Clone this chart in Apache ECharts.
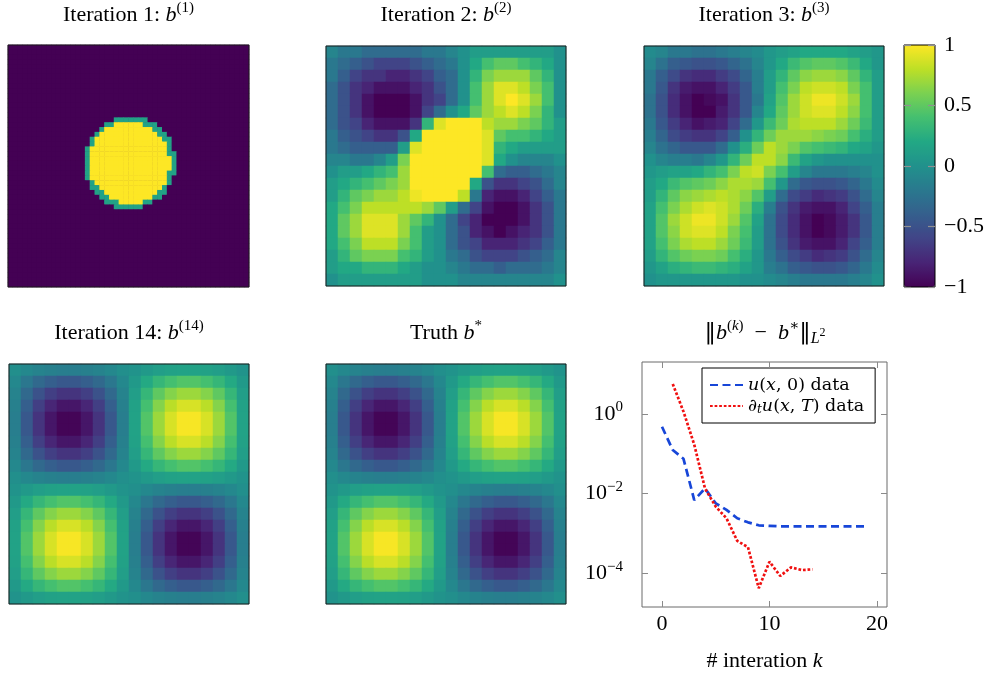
<!DOCTYPE html>
<html><head><meta charset="utf-8">
<script src="https://cdn.jsdelivr.net/npm/echarts@6/dist/echarts.min.js"></script>
<style>html,body{margin:0;padding:0;background:#fff}#c{width:997px;height:674px}</style>
</head><body><div id="c"></div>
<script>
// ---------- DATA ----------
// Iteration 1: 50x50 field, -1 outside a disc, +1 inside, thin transition edge.
const iter1Size = 50;
const iter1Outside = -1;
const iter1Inside = 1;
const iter1Edge = 0.15;
// [row, edgeStartCol, insideStartCol, insideEndCol, edgeEndCol]  (insideStart -1 = edge only)
const iter1Rows = [
  [15,22,-1,-1,28],[16,20,22,27,30],[17,19,20,29,31],[18,18,19,30,32],[19,17,18,31,33],
  [20,17,18,32,33],[21,16,17,32,33],[22,16,17,32,34],[23,16,17,33,34],[24,16,17,33,34],
  [25,16,17,33,34],[26,16,17,32,34],[27,16,17,32,33],[28,17,18,32,33],[29,17,19,31,32],
  [30,18,20,30,32],[31,19,21,29,31],[32,20,23,27,29],[33,22,-1,-1,27]
];

// Iteration 2: 20x20 field, rows top -> bottom
const iter2Grid = [
  [-0.1,-0.2,-0.2,-0.3,-0.3,-0.3,-0.3,-0.3,-0.2,-0.2,-0.1,0,0.1,0.1,0.1,0.1,0.1,0.1,0.1,0],
  [-0.2,-0.3,-0.4,-0.5,-0.6,-0.6,-0.6,-0.5,-0.4,-0.3,-0.2,0,0.2,0.4,0.5,0.5,0.4,0.3,0.2,0],
  [-0.2,-0.4,-0.6,-0.7,-0.7,-0.8,-0.8,-0.7,-0.6,-0.4,-0.3,0,0.3,0.6,0.7,0.7,0.7,0.5,0.3,0],
  [-0.3,-0.5,-0.7,-0.8,-0.9,-0.9,-0.9,-0.8,-0.7,-0.5,-0.3,0,0.4,0.7,0.9,0.9,0.8,0.6,0.4,0],
  [-0.3,-0.5,-0.7,-0.9,-1,-1,-1,-0.9,-0.7,-0.6,-0.3,0,0.4,0.7,0.9,1,0.9,0.7,0.4,0],
  [-0.3,-0.5,-0.7,-0.9,-1,-1,-1,-0.9,-0.6,-0.3,0,0.2,0.5,0.7,0.8,0.9,0.8,0.6,0.3,0],
  [-0.3,-0.5,-0.6,-0.8,-0.9,-0.9,-0.9,-0.7,0.3,0.9,1,1,1,0.8,0.7,0.7,0.6,0.5,0.3,0.1],
  [-0.2,-0.4,-0.5,-0.6,-0.7,-0.7,-0.5,0.2,1,1,1,1,1,0.9,0.5,0.4,0.4,0.3,0.2,0.1],
  [-0.2,-0.3,-0.4,-0.4,-0.4,-0.4,0.1,0.9,1,1,1,1,1,0.9,0.3,0.2,0.1,0.1,0.1,0.1],
  [-0.1,-0.1,-0.2,-0.2,-0.1,0.1,0.6,1,1,1,1,1,1,0.9,0.2,0,-0.1,-0.1,-0.1,0],
  [0,0.1,0.1,0.2,0.3,0.4,0.7,1,1,1,1,1,1,0.4,-0.3,-0.4,-0.4,-0.3,-0.2,-0.1],
  [0.1,0.2,0.3,0.4,0.5,0.6,0.7,1,1,1,1,1,0.2,-0.5,-0.7,-0.7,-0.6,-0.5,-0.3,-0.1],
  [0.1,0.3,0.5,0.6,0.7,0.7,0.8,0.95,1,1,1,0.8,-0.2,-0.8,-0.9,-0.9,-0.8,-0.6,-0.4,-0.2],
  [0.2,0.4,0.6,0.8,0.8,0.8,0.8,0.8,0.7,0.5,0.1,-0.3,-0.6,-0.9,-1,-1,-0.9,-0.7,-0.5,-0.2],
  [0.2,0.5,0.7,0.9,0.9,0.9,0.7,0.5,0.3,0,-0.3,-0.6,-0.8,-1,-1,-1,-0.9,-0.7,-0.5,-0.2],
  [0.2,0.5,0.7,0.9,0.9,0.9,0.7,0.4,0.1,0,-0.3,-0.5,-0.8,-0.9,-1,-0.9,-0.8,-0.7,-0.5,-0.2],
  [0.2,0.4,0.6,0.8,0.8,0.8,0.6,0.4,0.1,0,-0.3,-0.5,-0.6,-0.8,-0.8,-0.8,-0.7,-0.6,-0.4,-0.2],
  [0.1,0.3,0.5,0.6,0.6,0.6,0.4,0.3,0.1,0,-0.2,-0.3,-0.5,-0.6,-0.6,-0.6,-0.5,-0.4,-0.3,-0.1],
  [0.1,0.2,0.2,0.3,0.3,0.3,0.2,0.1,0,0,-0.1,-0.2,-0.3,-0.3,-0.4,-0.3,-0.3,-0.3,-0.2,-0.1],
  [0,0.1,0.1,0.1,0.1,0.1,0.1,0.1,0,0,0,-0.1,-0.1,-0.1,-0.1,-0.1,-0.1,-0.1,-0.1,0]
];

// Iteration 3: 20x20 field, rows top -> bottom
const iter3Grid = [
  [-0.05,-0.1,-0.2,-0.2,-0.25,-0.25,-0.2,-0.15,-0.1,-0.05,0.05,0.1,0.15,0.2,0.2,0.2,0.2,0.15,0.1,0.05],
  [-0.1,-0.25,-0.4,-0.45,-0.5,-0.5,-0.45,-0.35,-0.25,-0.1,0.05,0.2,0.35,0.45,0.5,0.5,0.45,0.35,0.2,0.05],
  [-0.2,-0.4,-0.55,-0.7,-0.75,-0.75,-0.65,-0.55,-0.35,-0.15,0.1,0.3,0.5,0.65,0.7,0.7,0.65,0.5,0.3,0.1],
  [-0.2,-0.45,-0.7,-0.85,-0.9,-0.9,-0.8,-0.65,-0.45,-0.15,0.1,0.4,0.6,0.8,0.85,0.85,0.8,0.6,0.4,0.1],
  [-0.25,-0.5,-0.75,-0.9,-1,-0.95,-0.9,-0.7,-0.45,-0.2,0.15,0.45,0.7,0.85,0.95,0.95,0.85,0.7,0.4,0.1],
  [-0.25,-0.5,-0.75,-0.9,-1,-1,-0.85,-0.7,-0.45,-0.1,0.2,0.5,0.7,0.85,0.9,0.9,0.8,0.65,0.4,0.1],
  [-0.2,-0.45,-0.65,-0.8,-0.9,-0.85,-0.8,-0.6,-0.3,0.05,0.35,0.55,0.75,0.8,0.8,0.8,0.7,0.55,0.35,0.1],
  [-0.15,-0.35,-0.55,-0.65,-0.7,-0.7,-0.6,-0.4,0,0.3,0.55,0.7,0.7,0.7,0.65,0.6,0.55,0.4,0.25,0.1],
  [-0.1,-0.25,-0.35,-0.45,-0.45,-0.45,-0.3,0,0.25,0.55,0.8,0.7,0.6,0.45,0.4,0.35,0.3,0.2,0.15,0.05],
  [0,-0.1,-0.15,-0.15,-0.2,-0.1,0.05,0.3,0.55,0.8,0.8,0.65,0.35,0.15,0.05,0,0,0,0,0],
  [0.05,0.1,0.15,0.15,0.2,0.3,0.4,0.6,0.8,0.85,0.6,0.4,0.1,-0.1,-0.2,-0.2,-0.2,-0.15,-0.1,0],
  [0.1,0.2,0.35,0.45,0.5,0.55,0.65,0.75,0.75,0.7,0.4,0.05,-0.3,-0.45,-0.5,-0.5,-0.45,-0.35,-0.2,-0.05],
  [0.1,0.3,0.5,0.65,0.7,0.75,0.8,0.75,0.65,0.45,0.1,-0.3,-0.55,-0.65,-0.75,-0.7,-0.65,-0.5,-0.3,-0.1],
  [0.15,0.4,0.6,0.75,0.85,0.9,0.85,0.75,0.55,0.25,-0.15,-0.5,-0.7,-0.85,-0.9,-0.9,-0.8,-0.6,-0.4,-0.15],
  [0.15,0.45,0.7,0.85,0.95,0.95,0.85,0.7,0.45,0.15,-0.25,-0.55,-0.75,-0.9,-1,-0.95,-0.85,-0.7,-0.45,-0.15],
  [0.15,0.45,0.65,0.85,0.9,0.9,0.8,0.6,0.4,0.1,-0.25,-0.55,-0.75,-0.9,-1,-0.95,-0.85,-0.7,-0.45,-0.15],
  [0.15,0.4,0.6,0.75,0.8,0.8,0.7,0.55,0.35,0.1,-0.25,-0.5,-0.7,-0.85,-0.9,-0.9,-0.8,-0.6,-0.4,-0.15],
  [0.1,0.3,0.45,0.55,0.6,0.6,0.55,0.4,0.25,0.05,-0.2,-0.4,-0.55,-0.65,-0.75,-0.7,-0.65,-0.5,-0.3,-0.1],
  [0.05,0.15,0.25,0.3,0.35,0.35,0.3,0.25,0.15,0.05,-0.15,-0.25,-0.4,-0.45,-0.5,-0.5,-0.45,-0.35,-0.2,-0.05],
  [0,0.05,0.05,0.05,0.05,0.05,0.05,0.05,0,0,-0.05,-0.1,-0.15,-0.2,-0.2,-0.2,-0.2,-0.15,-0.1,0]
];

// Truth b*: 20x20 field, rows top -> bottom
const truthGrid = [
  [-0.02,-0.07,-0.11,-0.14,-0.15,-0.15,-0.14,-0.11,-0.07,-0.02,0.02,0.07,0.11,0.14,0.15,0.15,0.14,0.11,0.07,0.02],
  [-0.07,-0.21,-0.32,-0.4,-0.45,-0.45,-0.4,-0.32,-0.21,-0.07,0.07,0.21,0.32,0.4,0.45,0.45,0.4,0.32,0.21,0.07],
  [-0.11,-0.32,-0.5,-0.63,-0.7,-0.7,-0.63,-0.5,-0.32,-0.11,0.11,0.32,0.5,0.63,0.7,0.7,0.63,0.5,0.32,0.11],
  [-0.14,-0.4,-0.63,-0.79,-0.88,-0.88,-0.79,-0.63,-0.4,-0.14,0.14,0.4,0.63,0.79,0.88,0.88,0.79,0.63,0.4,0.14],
  [-0.15,-0.45,-0.7,-0.88,-0.98,-0.98,-0.88,-0.7,-0.45,-0.15,0.15,0.45,0.7,0.88,0.98,0.98,0.88,0.7,0.45,0.15],
  [-0.15,-0.45,-0.7,-0.88,-0.98,-0.98,-0.88,-0.7,-0.45,-0.15,0.15,0.45,0.7,0.88,0.98,0.98,0.88,0.7,0.45,0.15],
  [-0.14,-0.4,-0.63,-0.79,-0.88,-0.88,-0.79,-0.63,-0.4,-0.14,0.14,0.4,0.63,0.79,0.88,0.88,0.79,0.63,0.4,0.14],
  [-0.11,-0.32,-0.5,-0.63,-0.7,-0.7,-0.63,-0.5,-0.32,-0.11,0.11,0.32,0.5,0.63,0.7,0.7,0.63,0.5,0.32,0.11],
  [-0.07,-0.21,-0.32,-0.4,-0.45,-0.45,-0.4,-0.32,-0.21,-0.07,0.07,0.21,0.32,0.4,0.45,0.45,0.4,0.32,0.21,0.07],
  [-0.02,-0.07,-0.11,-0.14,-0.15,-0.15,-0.14,-0.11,-0.07,-0.02,0.02,0.07,0.11,0.14,0.15,0.15,0.14,0.11,0.07,0.02],
  [0.02,0.07,0.11,0.14,0.15,0.15,0.14,0.11,0.07,0.02,-0.02,-0.07,-0.11,-0.14,-0.15,-0.15,-0.14,-0.11,-0.07,-0.02],
  [0.07,0.21,0.32,0.4,0.45,0.45,0.4,0.32,0.21,0.07,-0.07,-0.21,-0.32,-0.4,-0.45,-0.45,-0.4,-0.32,-0.21,-0.07],
  [0.11,0.32,0.5,0.63,0.7,0.7,0.63,0.5,0.32,0.11,-0.11,-0.32,-0.5,-0.63,-0.7,-0.7,-0.63,-0.5,-0.32,-0.11],
  [0.14,0.4,0.63,0.79,0.88,0.88,0.79,0.63,0.4,0.14,-0.14,-0.4,-0.63,-0.79,-0.88,-0.88,-0.79,-0.63,-0.4,-0.14],
  [0.15,0.45,0.7,0.88,0.98,0.98,0.88,0.7,0.45,0.15,-0.15,-0.45,-0.7,-0.88,-0.98,-0.98,-0.88,-0.7,-0.45,-0.15],
  [0.15,0.45,0.7,0.88,0.98,0.98,0.88,0.7,0.45,0.15,-0.15,-0.45,-0.7,-0.88,-0.98,-0.98,-0.88,-0.7,-0.45,-0.15],
  [0.14,0.4,0.63,0.79,0.88,0.88,0.79,0.63,0.4,0.14,-0.14,-0.4,-0.63,-0.79,-0.88,-0.88,-0.79,-0.63,-0.4,-0.14],
  [0.11,0.32,0.5,0.63,0.7,0.7,0.63,0.5,0.32,0.11,-0.11,-0.32,-0.5,-0.63,-0.7,-0.7,-0.63,-0.5,-0.32,-0.11],
  [0.07,0.21,0.32,0.4,0.45,0.45,0.4,0.32,0.21,0.07,-0.07,-0.21,-0.32,-0.4,-0.45,-0.45,-0.4,-0.32,-0.21,-0.07],
  [0.02,0.07,0.11,0.14,0.15,0.15,0.14,0.11,0.07,0.02,-0.02,-0.07,-0.11,-0.14,-0.15,-0.15,-0.14,-0.11,-0.07,-0.02]
];
// Iteration 14 is visually indistinguishable from the truth
const iter14Grid = truthGrid;

// Error curves ||b(k) - b*||_{L2}
const kBlue = [0,1,2,3,4,5,6,7,8,9,10,11,12,13,14,15,16,17,18,19];
const errBlue = [0.48,0.125,0.075,0.0069,0.0135,0.0057,0.0039,0.0024,0.0019,0.0016,0.00155,0.0015,0.0015,0.0015,0.0015,0.0015,0.0015,0.0015,0.0015,0.0015];
const kRed = [1,2,3,4,5,6,7,8,9,10,11,12,13,14];
const errRed = [5.7,1.15,0.17,0.0135,0.0047,0.0024,0.00065,0.00045,0.000042,0.000195,0.000085,0.00014,0.00012,0.000125];

const xTickValues = [0,10,20];
const yTickValues = [1e-4,1e-2,1];
const colorbarTicks = [-1,-0.5,0,0.5,1];
const seriesNames = ['u(x,0) data','∂tu(x,T) data'];
const viridis = ['#440154','#482475','#414487','#355f8d','#2a788e','#21918c','#22a884','#44bf70','#7ad151','#bddf26','#fde725'];

// ---------- BUILD ----------
function spansToGrid(rows, n){
  const g = [];
  for (let r=0;r<n;r++){ g.push(new Array(n).fill(iter1Outside)); }
  rows.forEach(([r,es,is,ie,ee])=>{
    for (let c=es;c<=ee;c++) g[r][c]=iter1Edge;
    if (is>=0) for (let c=is;c<=ie;c++) g[r][c]=iter1Inside;
  });
  return g;
}
const iter1Grid = spansToGrid(iter1Rows, iter1Size);
function gridToData(grid){
  const out=[]; grid.forEach((row,r)=>row.forEach((v,c)=>out.push([c,r,v]))); return out;
}
function cats(n){ const a=[]; for(let i=0;i<n;i++) a.push(i); return a; }

const SERIF = "'Liberation Serif','DejaVu Serif',serif";
const rich = {
  t:{fontFamily:SERIF,fontSize:22,color:'#000',lineHeight:28},
  n:{fontFamily:"'DejaVu Serif',serif",fontSize:23,color:'#000',lineHeight:28},
  i:{fontFamily:SERIF,fontSize:22,fontStyle:'italic',color:'#000',lineHeight:28},
  s:{fontFamily:SERIF,fontSize:15,color:'#000',verticalAlign:'top',lineHeight:15},
  si:{fontFamily:SERIF,fontSize:15,fontStyle:'italic',color:'#000',verticalAlign:'top',lineHeight:15},
  sub:{fontFamily:SERIF,fontSize:16,fontStyle:'italic',color:'#000',verticalAlign:'bottom',lineHeight:16},
  sub2:{fontFamily:SERIF,fontSize:12,color:'#000',verticalAlign:'middle',lineHeight:12}
};

const panels = [
  {grid:{left:8,top:45,width:241,height:242}, g:iter1Grid, bg:'#440154', title:'{t|Iteration 1: }{i|b}{s|(1)}', ty:15},
  {grid:{left:326,top:46,width:240,height:240}, g:iter2Grid, bg:'#21918c', title:'{t|Iteration 2: }{i|b}{s|(2)}', ty:15},
  {grid:{left:644,top:46,width:240,height:240}, g:iter3Grid, bg:'#21918c', title:'{t|Iteration 3: }{i|b}{s|(3)}', ty:15},
  {grid:{left:9,top:364,width:240,height:240}, g:iter14Grid, bg:'#21918c', title:'{t|Iteration 14: }{i|b}{s|(14)}', ty:333},
  {grid:{left:326,top:364,width:240,height:240}, g:truthGrid, bg:'#21918c', title:'{t|Truth }{i|b}{s|*}', ty:333}
];

const grids=[], xAxes=[], yAxes=[], series=[], graphics=[];
panels.forEach((p,idx)=>{
  const n = p.g.length;
  grids.push(Object.assign({show:true,borderColor:'#1a1a1a',borderWidth:1,backgroundColor:'transparent',z:5}, p.grid));
  xAxes.push({type:'category',gridIndex:idx,data:cats(n),show:false});
  yAxes.push({type:'category',gridIndex:idx,data:cats(n),show:false,inverse:true});
  series.push({type:'heatmap',xAxisIndex:idx,yAxisIndex:idx,data:gridToData(p.g),
    itemStyle:{borderWidth:0},emphasis:{disabled:true},silent:true,progressive:0});
  graphics.push({type:'rect',z:0,silent:true,
    shape:{x:p.grid.left,y:p.grid.top,width:p.grid.width,height:p.grid.height},style:{fill:p.bg}});
  graphics.push({type:'text',x:p.grid.left+p.grid.width/2,y:p.ty,
    style:{text:p.title,rich:rich,align:'center',verticalAlign:'middle'}});
});

// line chart grid (index 5)
const LG = 5;
grids.push({left:642,top:362,width:245,height:245,show:true,borderColor:'#6a6a6a',borderWidth:1,backgroundColor:'transparent',z:5});
const xMin=-1.86, xMax=20.93, yMin=1.416e-5, yMax=20.3;
const tickStyle = {show:true,inside:true,length:6,lineStyle:{color:'#8a8a8a',width:1}};
xAxes.push({type:'value',gridIndex:LG,min:xMin,max:xMax,position:'bottom',z:6,
  axisLine:{show:false,onZero:false},splitLine:{show:false},
  axisTick:Object.assign({customValues:xTickValues},tickStyle),
  axisLabel:{customValues:xTickValues,fontFamily:SERIF,fontSize:22,color:'#000',margin:6},
  name:'{t|# interation }{i|k}',nameLocation:'middle',nameGap:40,nameTextStyle:{rich:rich}});
xAxes.push({type:'value',gridIndex:LG,min:xMin,max:xMax,position:'top',z:6,
  axisLine:{show:false,onZero:false},splitLine:{show:false},
  axisTick:Object.assign({customValues:xTickValues},tickStyle),axisLabel:{show:false}});
function expLabel(v){
  const e = Math.round(Math.log10(v));
  return '{b|10}{e|'+(e<0?'−'+(-e):e)+'}';
}
yAxes.push({type:'log',gridIndex:LG,min:yMin,max:yMax,position:'left',z:6,
  axisLine:{show:false,onZero:false},splitLine:{show:false},minorTick:{show:false},
  axisTick:Object.assign({customValues:yTickValues},tickStyle),
  axisLabel:{customValues:yTickValues,formatter:expLabel,margin:19,
    rich:{b:{fontFamily:SERIF,fontSize:22,color:'#000',lineHeight:28},
          e:{fontFamily:SERIF,fontSize:15,color:'#000',verticalAlign:'top',lineHeight:15}}}});
yAxes.push({type:'log',gridIndex:LG,min:yMin,max:yMax,position:'right',z:6,
  axisLine:{show:false,onZero:false},splitLine:{show:false},minorTick:{show:false},
  axisTick:Object.assign({customValues:yTickValues},tickStyle),axisLabel:{show:false}});

series.push({type:'line',name:seriesNames[0],xAxisIndex:5,yAxisIndex:5,
  data:kBlue.map((k,i)=>[k,errBlue[i]]),symbol:'none',silent:true,
  lineStyle:{color:'#1746d8',width:2.7,type:[8,4.5],cap:'butt'},itemStyle:{color:'#1746d8'}});
series.push({type:'line',name:seriesNames[1],xAxisIndex:5,yAxisIndex:5,
  data:kRed.map((k,i)=>[k,errRed[i]]),symbol:'none',silent:true,
  lineStyle:{color:'#f01010',width:2.7,type:[2.7,1.9],cap:'butt'},itemStyle:{color:'#f01010'}});

graphics.push({type:'text',x:765,y:333,
  style:{text:'{n|‖}{i|b}{s|(}{si|k}{s|)}{t|  −  }{i|b}{s|∗}{n|‖}{sub|L}{sub2|2}',rich:rich,align:'center',verticalAlign:'middle'}});

// colorbar grid (index 6) – frame whose axes carry the colour-bar ticks and labels
const CG = 6;
grids.push({left:904,top:45,width:31,height:242,show:true,borderColor:'#000',borderWidth:1,backgroundColor:'transparent',z:30});
xAxes.push({type:'value',gridIndex:CG,min:0,max:1,show:false});
const cbTick = {show:true,inside:true,length:7,lineStyle:{color:'#909090',width:1.2}};
yAxes.push({type:'value',gridIndex:CG,min:-1,max:1,interval:0.5,position:'right',z:30,zlevel:1,
  axisLine:{show:false,onZero:false},splitLine:{show:false},axisTick:cbTick,
  axisLabel:{fontFamily:SERIF,fontSize:22,color:'#000',margin:9,
    formatter:v=>(v<0?'−'+Math.abs(v):String(v))}});
yAxes.push({type:'value',gridIndex:CG,min:-1,max:1,interval:0.5,position:'left',z:30,zlevel:1,
  axisLine:{show:false,onZero:false},splitLine:{show:false},axisTick:cbTick,axisLabel:{show:false}});

const LEG = "'DejaVu Serif',serif";
const legendRich = {
  l:{fontFamily:LEG,fontSize:17.5,color:'#000',lineHeight:20},
  i:{fontFamily:LEG,fontSize:17.5,fontStyle:'italic',color:'#000',lineHeight:20},
  sb:{fontFamily:LEG,fontSize:12,fontStyle:'italic',color:'#000',verticalAlign:'bottom',lineHeight:12}
};

const option = {
  animation:false,
  backgroundColor:'#fff',
  grid:grids, xAxis:xAxes, yAxis:yAxes, series:series,
  visualMap:{type:'continuous',min:-1,max:1,seriesIndex:[0,1,2,3,4],z:1,
    inRange:{color:viridis},calculable:false,hoverLink:false,
    left:904,top:45,itemWidth:31,itemHeight:242,padding:0,text:null,
    textStyle:{color:'transparent'}},
  legend:{data:seriesNames,left:702,top:368,orient:'vertical',
    backgroundColor:'#fff',borderColor:'#000',borderWidth:1,
    padding:[8,11,7,7],itemGap:3,itemWidth:33,itemHeight:14,selectedMode:false,
    itemStyle:{opacity:0,color:'transparent',borderWidth:0},
    textStyle:{rich:legendRich},
    formatter:function(name){
      if(name===seriesNames[0]) return '{i|u}{l|(}{i|x}{l|, 0) data}';
      return '{l|∂}{sb|t}{i|u}{l|(}{i|x}{l|, }{i|T}{l|) data}';
    }},
  graphic:graphics
};
const chart = echarts.init(document.getElementById('c'));
chart.setOption(option);
</script></body></html>
